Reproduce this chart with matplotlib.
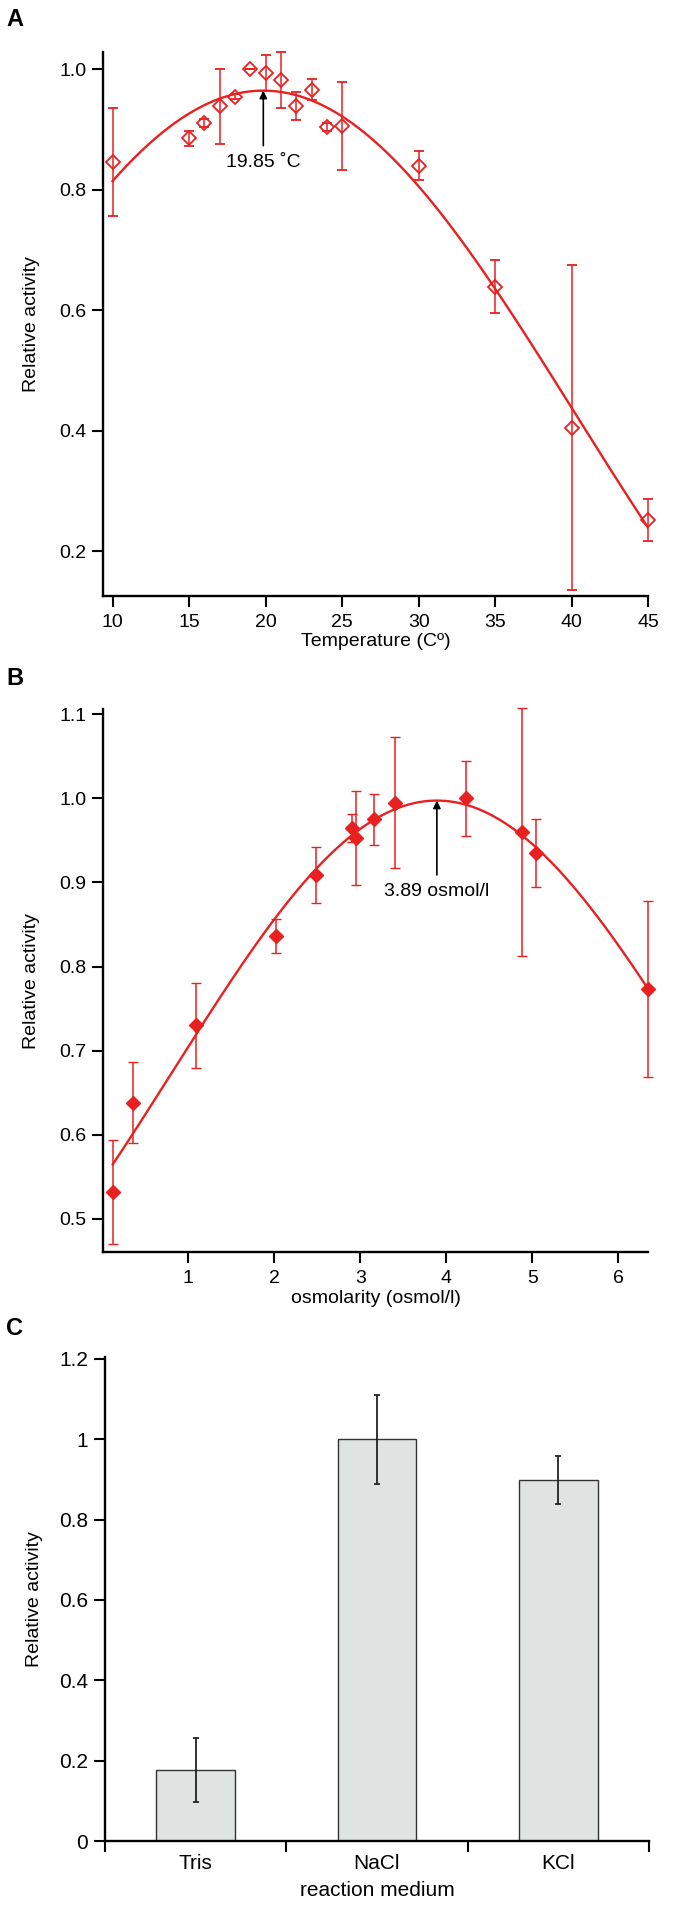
import numpy as np
import matplotlib
matplotlib.use('Agg')
import matplotlib.pyplot as plt
from matplotlib.ticker import FuncFormatter

plt.rcParams['font.family'] = ['Liberation Sans', 'DejaVu Sans']

# A: temperature dependence
temp = [10, 15, 16, 17, 18, 19, 20, 21, 22, 23, 24, 25, 30, 35, 40, 45]
temp_act = [0.846, 0.885, 0.911, 0.938, 0.954, 1.0, 0.993, 0.982, 0.939, 0.966,
            0.904, 0.906, 0.840, 0.639, 0.405, 0.251]
temp_err = [0.089, 0.013, 0.007, 0.063, 0.004, 0.0, 0.030, 0.047, 0.023, 0.017,
            0.007, 0.073, 0.024, 0.044, 0.270, 0.035]
peak_temp = 19.85

# B: osmolarity dependence
osm = [0.12, 0.35, 1.09, 2.02, 2.485, 2.90, 2.95, 3.16, 3.40, 4.225, 4.88, 5.04, 6.35]
osm_act = [0.532, 0.638, 0.730, 0.836, 0.909, 0.965, 0.953, 0.975, 0.995, 1.0,
           0.960, 0.935, 0.773]
osm_err = [0.062, 0.048, 0.051, 0.020, 0.033, 0.017, 0.056, 0.030, 0.078, 0.045,
           0.147, 0.040, 0.105]
peak_osm = 3.89

# C: reaction medium
media = ['Tris', 'NaCl', 'KCl']
medium_act = [0.177, 1.0, 0.898]
medium_err = [0.080, 0.111, 0.060]

red = '#e8201f'


def gauss_fit(x, y, x0, widths):
    # gaussian + offset, centre fixed at x0, least squares over width grid
    x = np.asarray(x, float)
    y = np.asarray(y, float)
    best = None
    for w in widths:
        M = np.column_stack([np.ones_like(x), np.exp(-((x - x0) / w) ** 2)])
        coef = np.linalg.lstsq(M, y, rcond=None)[0]
        r = np.sum((M @ coef - y) ** 2)
        if best is None or r < best[0]:
            best = (r, w, coef)
    _, w, (y0, amp) = best
    return lambda t: y0 + amp * np.exp(-((t - x0) / w) ** 2)


def style(ax, labelsize=14):
    for s in ['top', 'right']:
        ax.spines[s].set_visible(False)
    for s in ['left', 'bottom']:
        ax.spines[s].set_linewidth(1.7)
    ax.tick_params(direction='out', length=8, width=1.5, labelsize=labelsize, pad=4)
    ax.tick_params(axis='x', pad=5)


def unclip(cont):
    for art in cont.get_children():
        art.set_clip_on(False)


fig = plt.figure(figsize=(7, 19.14), dpi=100)

# ---- A ----
axA = fig.add_axes([0.1476, 0.6888, 0.7786, 0.2842])
fitA = gauss_fit(temp, temp_act, peak_temp, np.linspace(5, 80, 1501))
xa = np.linspace(temp[0], temp[-1], 300)
axA.plot(xa, fitA(xa), color=red, lw=1.7, zorder=3)
eb = axA.errorbar(temp, temp_act, yerr=temp_err, fmt='D', ms=7.5, mfc='none', mec=red,
                  mew=1.3, color=red, ecolor=red, elinewidth=1.1, capsize=3.5,
                  capthick=1.1, zorder=4)
unclip(eb)
axA.annotate('19.85 ˚C', xy=(peak_temp, fitA(peak_temp)), xytext=(peak_temp, 0.845),
             ha='center', va='center', fontsize=14,
             arrowprops=dict(arrowstyle='-|>', color='black', lw=1.2,
                             mutation_scale=11, shrinkA=4, shrinkB=0))
axA.set_xlim(9.4, 45)
axA.set_ylim(0.126, 1.029)
axA.set_xticks([10, 15, 20, 25, 30, 35, 40, 45])
axA.set_yticks([0.2, 0.4, 0.6, 0.8, 1.0])
axA.yaxis.set_major_formatter(FuncFormatter(lambda v, _: f'{v:.1f}'))
style(axA)
axA.set_xlabel('Temperature (Cº)', fontsize=14, labelpad=2)
axA.set_ylabel('Relative activity', fontsize=14, labelpad=14)

# ---- B ----
axB = fig.add_axes([0.1476, 0.3457, 0.7786, 0.2837])
fitB = gauss_fit(osm, osm_act, peak_osm, np.linspace(1, 15, 1401))
xb = np.linspace(osm[0], osm[-1], 300)
axB.plot(xb, fitB(xb), color=red, lw=1.7, zorder=3)
eb = axB.errorbar(osm, osm_act, yerr=osm_err, fmt='D', ms=7.5, mfc=red, mec=red,
                  mew=1.0, color=red, ecolor=red, elinewidth=1.1, capsize=3.5,
                  capthick=1.1, zorder=4)
unclip(eb)
axB.annotate('3.89 osmol/l', xy=(peak_osm, fitB(peak_osm)), xytext=(peak_osm, 0.889),
             ha='center', va='center', fontsize=14,
             arrowprops=dict(arrowstyle='-|>', color='black', lw=1.2,
                             mutation_scale=11, shrinkA=4, shrinkB=0))
axB.set_xlim(0.01, 6.35)
axB.set_ylim(0.46, 1.106)
axB.set_xticks([1, 2, 3, 4, 5, 6])
axB.set_yticks([0.5, 0.6, 0.7, 0.8, 0.9, 1.0, 1.1])
axB.yaxis.set_major_formatter(FuncFormatter(lambda v, _: f'{v:.1f}'))
style(axB)
axB.set_xlabel('osmolarity (osmol/l)', fontsize=14, labelpad=2)
axB.set_ylabel('Relative activity', fontsize=14, labelpad=14)

# ---- C ----
axC = fig.add_axes([0.15, 0.0381, 0.7771, 0.2530])
pos = np.arange(len(media))
axC.bar(pos, medium_act, width=0.435, color='#dfe3e2', edgecolor='#333333', linewidth=1.0,
        yerr=medium_err, error_kw=dict(ecolor='#222222', elinewidth=1.3, capsize=2.5,
                                       capthick=1.3))
axC.set_xlim(-0.5, 2.5)
axC.set_ylim(0, 1.205)
axC.set_yticks([0, 0.2, 0.4, 0.6, 0.8, 1.0, 1.2])
axC.yaxis.set_major_formatter(FuncFormatter(lambda v, _: f'{v:g}'))
axC.set_xticks(pos)
axC.set_xticklabels(media)
axC.set_xticks(np.arange(-0.5, len(media), 1.0), minor=True)
style(axC, labelsize=15)
axC.tick_params(axis='x', which='major', length=0, pad=9)
axC.tick_params(axis='x', which='minor', direction='out', length=8, width=1.5)
axC.set_xlabel('reaction medium', fontsize=15, labelpad=6)
axC.set_ylabel('Relative activity', fontsize=14, labelpad=12)

# panel letters
for letter, ybase in [('A', 26), ('B', 685), ('C', 1335)]:
    fig.text(6 / 700, 1 - ybase / 1914, letter, fontsize=17, fontweight='bold',
             ha='left', va='baseline')

fig.savefig('out.png', dpi=100)
